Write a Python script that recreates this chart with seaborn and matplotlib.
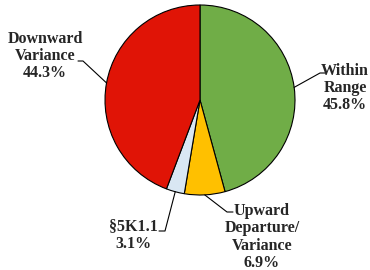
import numpy as np
import seaborn as sns
from matplotlib import pyplot as plt

# data
categorias = ['Within\nRange', 'Upward\nDeparture/\nVariance', '§5K1.1', 'Downward\nVariance']
percentuais = [45.8, 6.9, 3.1, 44.3]
cores = ['#70AD47', '#FFC000', '#D9E7F3', '#E01406']

sns.set_theme(style='white')
plt.rcParams['font.family'] = ['Liberation Serif', 'DejaVu Serif']

fig = plt.figure(figsize=(3.7, 2.7), dpi=100)
ax = fig.add_axes([0, 0, 1, 1])
raio = 95
wedges, _ = ax.pie(percentuais, colors=cores, startangle=90, counterclock=False,
                   radius=raio, center=(0, 0),
                   wedgeprops=dict(edgecolor='black', linewidth=0.8))
ax.set_xlim(-200, 170)
ax.set_ylim(-170, 100)
ax.set_aspect('equal')
ax.axis('off')

# posicao dos textos e cotovelo das linhas (layout)
pos_texto = [(145, 12), (62, -137), (-67, -135), (-155, 44)]
cotovelo = [((120, 27), (125, 27)), ((27, -112), (33, -112)),
            ((-35, -131), (-41, -131)), ((-117, 39), (-122, 39))]

for w, cat, pct, (tx, ty), (c1, c2) in zip(wedges, categorias, percentuais, pos_texto, cotovelo):
    ang = np.deg2rad((w.theta1 + w.theta2) / 2)
    borda = (raio * np.cos(ang), raio * np.sin(ang))
    ax.plot([borda[0], c1[0], c2[0]], [borda[1], c1[1], c2[1]], color='black', lw=0.8)
    ax.text(tx, ty, f'{cat}\n{pct:.1f}%', ha='center', va='center', fontsize=11.5,
            fontweight='bold', linespacing=1.12)

plt.savefig('out.png', dpi=100)
